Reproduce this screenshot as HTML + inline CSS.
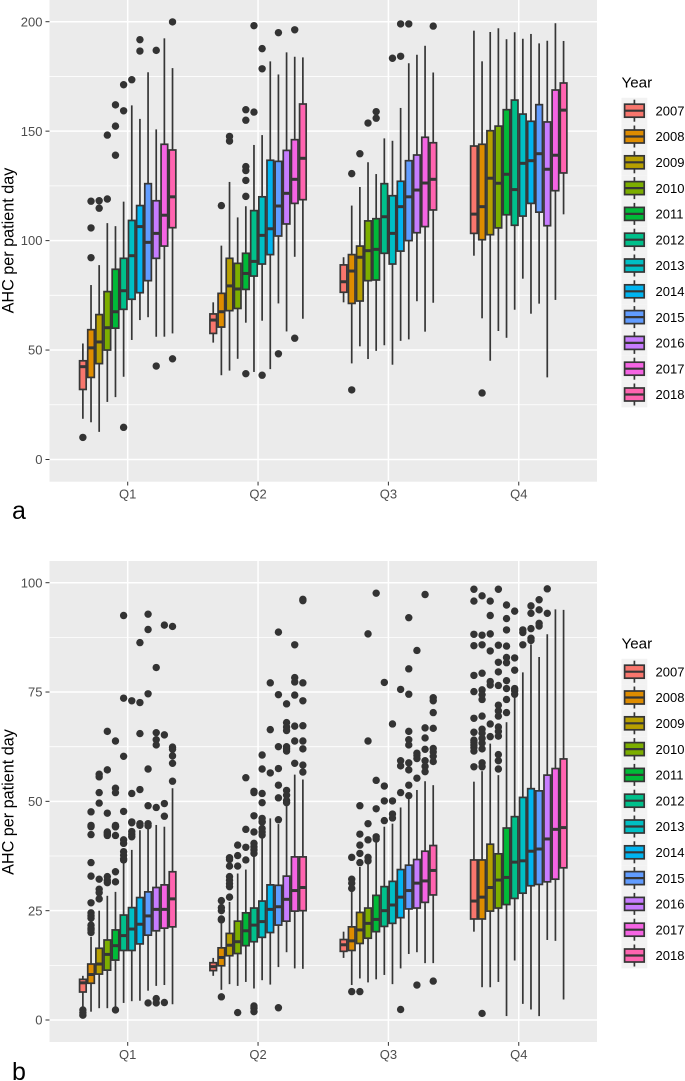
<!DOCTYPE html>
<html lang="en">
<head>
<meta charset="utf-8">
<title>AHC per patient day boxplots</title>
<style>
html,body{margin:0;padding:0;background:#fff;}
svg{display:block;font-family:"Liberation Sans",sans-serif;}
</style>
</head>
<body>
<svg id="figure" xmlns="http://www.w3.org/2000/svg" width="685" height="1081" viewBox="0 0 685 1081">
  <rect x="0" y="0" width="685" height="1081" fill="#ffffff"/>
  <g id="panel-a"></g>
  <g id="panel-b"></g>
  <text transform="translate(13.5,240.5) rotate(-90)" text-anchor="middle" font-size="16.2" fill="#000">AHC per patient day</text>
  <text transform="translate(13.5,802) rotate(-90)" text-anchor="middle" font-size="16.2" fill="#000">AHC per patient day</text>
  <text x="621.5" y="87.5" font-size="15.2" fill="#000">Year</text>
  <text x="621.5" y="648.5" font-size="15.2" fill="#000">Year</text>
  <text x="12" y="519" font-size="25" fill="#000">a</text>
  <text x="12" y="1080" font-size="25" fill="#000">b</text>
</svg>
<script>
const quarters = ['Q1','Q2','Q3','Q4'];
const years = ['2007','2008','2009','2010','2011','2012','2013','2014','2015','2016','2017','2018'];
const palette = ['#F8766D','#DE8C00','#B79F00','#7CAE00','#00BA38','#00C08B','#00BFC4','#00B4F0','#619CFF','#C77CFF','#F564E3','#FF64B0'];

const aTickLabels = [0,50,100,150,200];
const aMinorTicks = [25,75,125,175];
const aLower = [
 [18.6,17,12.6,26.3,28.5,37.8,54.6,63.7,65,56.1,56.1,57.6],
 [53.4,38.5,40.6,46,62.5,40,63.4,41.3,71.3,58.5,92.6,64.3],
 [71.8,43.9,51.7,45.9,49.6,52.2,43.3,54.2,54.9,72.3,58.4,71.6],
 [93.1,64.5,45.1,58.7,55.6,68.4,82.6,66.6,71.2,37.5,72.9,112]
];
const aQ1 = [
 [32,37.5,43.8,50,60,68.6,73.2,76.2,81.7,91.9,97.5,105.9],
 [57.6,60.5,68,69,77.7,83.8,89.3,93.6,102.1,107.6,117,118.7],
 [76.4,71.3,72.4,81.7,82,94.2,89.3,95.2,100,103.6,106.4,114],
 [103.3,100.4,102.7,105.8,111.8,107,111.2,117,113,106.8,122.8,130.9]
];
const aMedian = [
 [42.4,51,53.7,60.2,67.5,77.1,93.1,106.4,99.2,103.3,111.6,120],
 [63.7,67.5,79.3,77.9,85,90.5,102.4,105.4,115.8,121.6,128,137.6],
 [81.2,86.1,92.4,95.4,96,110.9,103.3,115.5,120,123.1,126.3,128],
 [112.1,115.5,128.5,126.2,130.3,123.3,135.3,136.5,139.7,132.6,139,159.6]
];
const aQ3 = [
 [45.1,59.3,66.2,76.7,86.9,91.9,109.2,116,126,118.2,144,141.4],
 [66.5,75.9,91.9,89.6,94.2,113.7,120,136.7,136.2,141.2,146.1,162.4],
 [88.9,93.6,97.5,109,110,126,120.5,127.1,136.5,139.1,147.2,144.7],
 [143.2,144,150.2,152.3,159.8,164.2,157.8,154.5,162.1,154.2,168.8,172]
];
const aUpper = [
 [53,79.7,88.8,108,106.6,117.8,161.8,155.6,176.9,150.8,192.4,178.8],
 [71.8,97.7,126.8,110.6,115.7,143.7,148.2,181.9,175.9,186,184,183.7],
 [92.4,116,124.5,135.8,130.4,146.7,145.6,160.6,181,184.9,189,176.8],
 [195.9,181.9,195.3,197,192,195.2,192.2,194.4,190.1,191.3,199.3,191.2]
];
const aOutliers = [
 [[10.1],[118,105.8,92.2],[118.2,114.8],[119,148.2],[139,152.3,162],[14.7,159.3,171.2],[173.5],[191.8,186.6],[],[186.9,42.7],[],[199.9,46]],
 [[],[116],[147.6,145.5],[],[39.2,120.2,127.5,132,133.8,155,159.8],[198.2,158.7],[187.7,178.5,38.5],[],[195,48.3],[],[196.3,55.4],[]],
 [[],[31.8,130.6],[139.7],[153.7],[158.9,155.9],[],[183.3],[199,184.2],[199],[],[],[198]],
 [[],[30.4],[],[],[],[],[],[],[],[],[],[]]
];

const bTickLabels = [0,25,50,75,100];
const bMinorTicks = [12.5,37.5,62.5,87.5];
const bLower = [
 [2.7,1.9,2.7,2.7,3,3.9,4.3,4.4,6.7,7.8,8,3.6],
 [10.1,6.9,8.2,7.8,8.7,7.2,9.1,8.1,12.1,15.5,11.8,11.7],
 [14.2,8,9.5,8.6,9.3,10.3,8.2,11.8,15.1,15.5,13,13],
 [20.2,7.5,7.5,8.7,0.9,13.6,3.7,2.4,0.9,18.3,18.1,4.7]
];
const bQ1 = [
 [6.4,8.4,10.5,11.4,13.7,15.9,15.9,17.4,19.4,20.4,21,21.3],
 [11.3,12.4,14.7,15.2,17,17.9,18.9,20,21.7,22.6,24.9,25],
 [15.7,15.9,17.5,18.7,20.2,21.4,22.1,23.4,25.4,25.6,26.9,28.6],
 [23.1,23.1,24.9,25.6,26.4,27.8,29,30.7,31,31.6,32.2,34.8]
];
const bMedian = [
 [8.5,10.4,12.8,15,17,19.3,20.8,21.9,23.8,25.3,25.3,27.7],
 [12.2,14.3,17.1,17.9,20.4,21.7,22.5,25.3,25.9,27.6,29.6,30.3],
 [17.2,18.1,20.6,22.1,23,25,26.3,28.1,29.6,31.3,31.8,34.2],
 [27.2,28.1,30.3,32,32.6,36.1,36.4,38.6,39.1,41.4,43.6,44]
];
const bQ3 = [
 [9.3,12.8,16.4,18.3,20.6,24,25.7,28,29.3,30.3,30.9,33.9],
 [13.1,16.5,19.8,22.6,24.5,25.6,27.2,30.9,30.8,32.9,37.3,37.3],
 [18.4,21.3,24.6,25.6,28.5,30.5,31.7,34.4,35.4,36.7,38.6,39.9],
 [36.6,36.6,40.2,38,43.9,46.5,50.9,52.9,52.4,56,57.5,59.7]
];
const bUpper = [
 [10.1,19,25,28.4,29.3,36,38.9,43.4,44.2,44.6,44.2,53],
 [14.2,22.1,27,33.5,34.4,37.7,41.5,46.1,44.8,51.2,56.1,55],
 [20.2,29.3,35,35.8,40.8,44.2,44.9,48.6,50.7,52.6,54.6,53.7],
 [54.5,56.9,63.2,56,68.1,73.8,79.5,85.9,83,88.2,93.9,93.8]
];
const bOutliers = [
 [
  [2.3,1.7,1.1],
  [42.4,36,32.9,26.8,24.5,23.8,23.3,21.7,21,20.6,20,47.6,44.5,44.2],
  [32.2,29.9,29.1,27.7,56.2,55.6,52,49.6],
  [32.8,32,31.4,42.8,42.5,42.2,66,57.2,47.3,43],
  [2.3,33.9,31.6,44.2,42.2,63.8,53,52,44.5,44.2],
  [41.2,40.4,38.5,37.7,36.9,36.6,92.5,73.6,60.3,47.7],
  [45.1,43.1,42.5,41.9,73,51.8,45.3],
  [44.9,86.3,72.6,65.5,52.7,44.5],
  [3.9,92.8,89.3,74.6,57.4,49,44.4,44.9],
  [4.9,3.9,80.6,65.7,64.1,62.9,48.6],
  [4,90.3,65.2,49.5,46.6],
  [90,62.4,61.9,60.4,58.7,54.6]
 ],
 [
  [],
  [27.3,25.7,25,23.1,22.9,5.3],
  [28.1,30.5,31.2,32,32.8,35.2,36.7,37.1],
  [35.2,37.6,40,1.7],
  [36.6,39.5,43.6,55.4],
  [3.2,2.7,1.9,43,40.4,39.6,38.9,38.1,52.3,52,46.7],
  [45.3,43.8,43,42.3,51.8,49.7,46.1,45.3,57.4,60.6],
  [77.1,66.4,56.5],
  [2.8,88.7,74.4,62.5,57.5,53.7,50.8,45.8],
  [72.3,68,67,66.2,62.5,62,61.5,52.5,51.4,50.2,49.7],
  [85.8,78.3,77.3,74.3,67.2,63.8,58.7],
  [96.2,95.9,77.1,73,67.3,63.8,62,58.3,56.7]
 ],
 [
  [],
  [6.5,37.2,32.2,31.3,30.1],
  [6.5,42.5,40,38.1,36,49],
  [44.9,41.2,37.2,36.4,88.3,63.8],
  [41.9,41.4,97.6,54.8,48.3],
  [77.2,53.5,50.1,45.6],
  [67.7,50.1,47.1,46.2],
  [2.4,75.6,59.3,58.1,52],
  [92,80.3,74.5,66,64.1,62.9,58.8,57.2,53.7,51.3],
  [8,84.5,61,60.5,59.8,55.3],
  [97.3,66.8,64.5,61.9,59.3,58,56.8],
  [8.9,73.7,73,70.3,66.7,62.1,61.3,60.3,59.1]
 ],
 [
  [98.5,95.8,88.2,85.6,78.8,75.1,69,65.8,64,63.5,62.9,62.3,61.5,57.9],
  [1.5,97,88,85.8,79.3,75.5,74.4,73.3,69.5,66.5,65.6,64.4,63.3,62,58.8,57.9],
  [95.8,92.5,88.3,84.4,77.4,76.6,67.7,64.8],
  [98.5,85.7,81.8,79.6,76.5,72,70.7,69.5,67,66,64.9,60.7,59.3,57.4],
  [94.9,91.8,89.2,85.5,82.9,81.7,77.6,75.8,73.3,70.3],
  [93.5,82.8,80,75.8,75.3,74.5],
  [89.2,88.6,85.8],
  [94.7,93,89.5,87.3,86.8],
  [96.1,93.8,90.7,90.1],
  [98.6,93],
  [],
  []
 ]
];

const SVGNS = 'http://www.w3.org/2000/svg';
const panelLeft = 49.5, panelRight = 597;
const q1Center = 127.7, quarterStep = 130.35, dodgeStep = 8.15;
const lineColor = '#363636', lineWidth = 1.7, medianWidth = 3, dotRadius = 3.7;

function xPos(q, i) { return q1Center + q * quarterStep + (i - 5.5) * dodgeStep; }
function yScaleA(v) { return 459.5 - v * 2.189; }
function yScaleB(v) { return 1020 - v * 4.373; }

function mk(parent, tag, attrs, txt) {
  const el = document.createElementNS(SVGNS, tag);
  for (const k in attrs) el.setAttribute(k, attrs[k]);
  if (txt !== undefined) el.textContent = txt;
  parent.appendChild(el);
  return el;
}

function drawPanel(root, tag, top, bottom, yScale, ticks, minors, lower, q1s, meds, q3s, uppers, outliers, legendOffset) {
  let el = mk(root, 'rect', {x: panelLeft, y: top, width: panelRight - panelLeft, height: bottom - top, fill: '#EBEBEB'});
  
  

  minors.forEach(function (v) {
    const g = mk(root, 'line', {x1: panelLeft, x2: panelRight, y1: yScale(v), y2: yScale(v), stroke: '#fff', 'stroke-width': 0.8});
    
    
  });
  ticks.forEach(function (v) {
    const g = mk(root, 'line', {x1: panelLeft, x2: panelRight, y1: yScale(v), y2: yScale(v), stroke: '#fff', 'stroke-width': 1.5});
    
    
    const t = mk(root, 'line', {x1: 45.5, x2: panelLeft, y1: yScale(v), y2: yScale(v), stroke: '#333', 'stroke-width': 1});
    
    
    const l = mk(root, 'text', {x: 42.5, y: yScale(v) + 4.6, 'text-anchor': 'end', 'font-size': 13, fill: '#4D4D4D'}, String(v));
    
    
  });
  quarters.forEach(function (name, q) {
    const cx = q1Center + q * quarterStep;
    const g = mk(root, 'line', {x1: cx, x2: cx, y1: top, y2: bottom, stroke: '#fff', 'stroke-width': 1.5});
    
    
    const t = mk(root, 'line', {x1: cx, x2: cx, y1: bottom, y2: bottom + 3.8, stroke: '#333', 'stroke-width': 1});
    
    
    const l = mk(root, 'text', {x: cx, y: bottom + 17, 'text-anchor': 'middle', 'font-size': 13, fill: '#4D4D4D'}, name);
    
    
  });

  quarters.forEach(function (name, q) {
    years.forEach(function (year, i) {
      const cx = xPos(q, i);
      const grp = mk(root, 'g', {});
      
      
      outliers[q][i].forEach(function (v) {
        const d = mk(grp, 'circle', {cx: cx, cy: yScale(v), r: dotRadius, fill: '#333333'});
        
        
      });
      const w1 = mk(grp, 'line', {x1: cx, x2: cx, y1: yScale(q3s[q][i]), y2: yScale(uppers[q][i]), stroke: lineColor, 'stroke-width': lineWidth});
      
      
      const w2 = mk(grp, 'line', {x1: cx, x2: cx, y1: yScale(q1s[q][i]), y2: yScale(lower[q][i]), stroke: lineColor, 'stroke-width': lineWidth});
      
      
      const b = mk(grp, 'rect', {x: cx - 3.3, y: yScale(q3s[q][i]), width: 6.6, height: yScale(q1s[q][i]) - yScale(q3s[q][i]), fill: palette[i], stroke: lineColor, 'stroke-width': lineWidth});
      
      
      const m = mk(grp, 'line', {x1: cx - 3.3, x2: cx + 3.3, y1: yScale(meds[q][i]), y2: yScale(meds[q][i]), stroke: lineColor, 'stroke-width': medianWidth});
      
      
    });
  });

  years.forEach(function (year, i) {
    const cy = legendOffset + 110.7 + i * 25.8;
    const entry = mk(root, 'g', {});
    
    
    mk(entry, 'rect', {x: 621.5, y: cy - 12.9, width: 25.8, height: 25.8, fill: '#F2F2F2'});
    mk(entry, 'line', {x1: 634.4, x2: 634.4, y1: cy - 11, y2: cy + 11, stroke: lineColor, 'stroke-width': lineWidth});
    mk(entry, 'rect', {x: 624.6, y: cy - 6.5, width: 19.6, height: 13, fill: palette[i], stroke: lineColor, 'stroke-width': lineWidth});
    mk(entry, 'line', {x1: 624.6, x2: 644.2, y1: cy, y2: cy, stroke: lineColor, 'stroke-width': 2.2});
    mk(entry, 'text', {x: 655.5, y: cy + 4.7, 'font-size': 13, fill: '#000'}, year);
  });
}

drawPanel(document.getElementById('panel-a'), 'a', 0, 481.7, yScaleA, aTickLabels, aMinorTicks, aLower, aQ1, aMedian, aQ3, aUpper, aOutliers, 0);
drawPanel(document.getElementById('panel-b'), 'b', 561, 1042, yScaleB, bTickLabels, bMinorTicks, bLower, bQ1, bMedian, bQ3, bUpper, bOutliers, 561);
</script>
</body>
</html>
